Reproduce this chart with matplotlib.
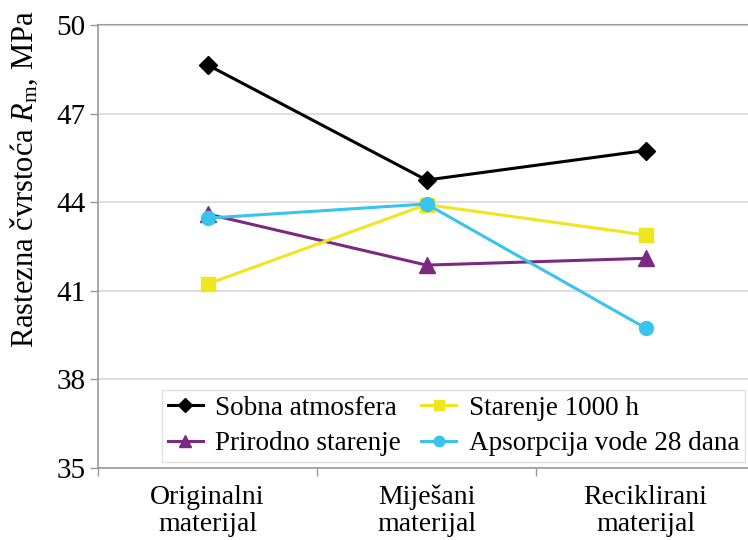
import matplotlib
matplotlib.use("Agg")
import matplotlib.pyplot as plt
import numpy as np

categories = ["Originalni\nmaterijal", "Miješani\nmaterijal", "Reciklirani\nmaterijal"]
sobna = [48.65, 44.75, 45.75]
prirodno = [43.6, 41.87, 42.1]
starenje = [41.23, 43.92, 42.89]
apsorpcija = [43.46, 43.94, 39.74]
yticks = [35, 38, 41, 44, 47, 50]

plt.rcParams['font.family'] = ['Liberation Serif', 'DejaVu Serif']
plt.rcParams['mathtext.fontset'] = 'custom'
plt.rcParams['mathtext.rm'] = 'Liberation Serif'
plt.rcParams['mathtext.it'] = 'Liberation Serif:italic'

fig = plt.figure(figsize=(7.48, 5.40), dpi=100)
W, H = 748, 540
left, right_px, top, bottom = 98, 98 + 657, 25, 468
ax = fig.add_axes([left / W, 1 - bottom / H, (right_px - left) / W, (bottom - top) / H])

x = np.arange(len(categories))
ax.plot(x, sobna, color='black', lw=2.2, marker='D', ms=9, label='Sobna atmosfera', zorder=3)
ax.plot(x, prirodno, color='#7B2A7F', lw=2.2, marker='^', ms=11, label='Prirodno starenje', zorder=3)
ax.plot(x, starenje, color='#F0E61E', lw=2.2, marker='s', ms=10, label='Starenje 1000 h', zorder=3)
ax.plot(x, apsorpcija, color='#38C4EE', lw=2.2, marker='o', ms=10, label='Apsorpcija vode 28 dana', zorder=4)

ax.set_xlim(-0.5, 2.5)
ax.set_ylim(35, 50)
ax.set_yticks(yticks)
ax.tick_params(axis='y', labelsize=21, length=6, color='#999999', width=1, pad=3)
ax.set_xticks(x)
ax.set_xticklabels(categories, fontsize=20, linespacing=1.1)
ax.tick_params(axis='x', length=0, pad=12)
ax.set_xticks([-0.5, 0.5, 1.5, 2.5], minor=True)
ax.tick_params(axis='x', which='minor', length=6, color='#999999', width=1)
ax.grid(axis='y', color='#D9D9D9', lw=1.2, zorder=0)
for s in ['top', 'right']:
    ax.spines[s].set_visible(False)
ax.spines['left'].set_color('#999999')
ax.spines['bottom'].set_color('#999999')
ax.spines['left'].set_linewidth(1.2)
ax.spines['bottom'].set_linewidth(1.2)
ax.axhline(50, color='#999999', lw=1.5, zorder=1, clip_on=False)

fig.text(24 / W, 1 - 179 / H, 'Rastezna čvrstoća $\\mathit{R}_{\\mathrm{m}}$, MPa',
         fontsize=22, rotation=90, ha='center', va='center')

leg = ax.legend(ncol=2, loc='upper right',
                bbox_to_anchor=((745 - left) / (right_px - left), (bottom - 390) / (bottom - top)),
                fontsize=19.5, frameon=True, fancybox=False, edgecolor='#D9D9D9',
                handlelength=1.3, handletextpad=0.45, columnspacing=0.75, borderpad=0.22,
                labelspacing=0.38, borderaxespad=0, markerscale=0.75)
leg.get_frame().set_linewidth(1.0)

fig.savefig('out.png', dpi=100)
